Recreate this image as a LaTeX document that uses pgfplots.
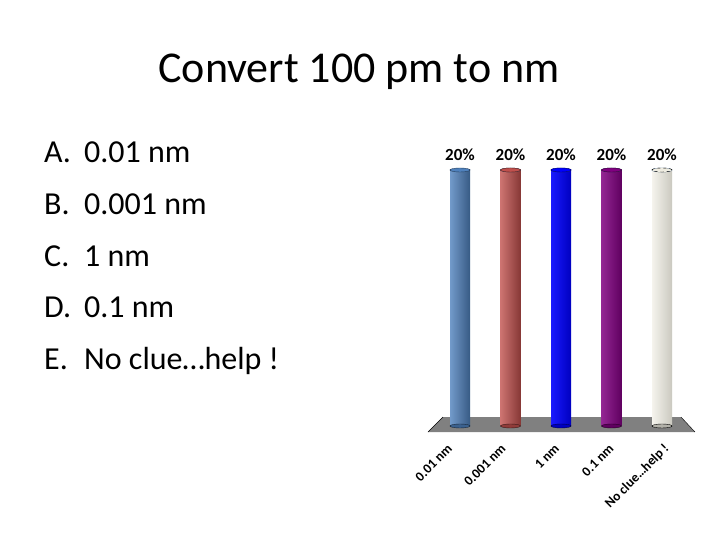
\documentclass[border=0pt]{standalone}
\usepackage{pgfplots}
\pgfplotsset{compat=1.18}
\usepackage{fontspec}
\setmainfont{Carlito}
\definecolor{cA}{HTML}{4F81BD}
\definecolor{cB}{HTML}{C0504D}
\definecolor{cC}{HTML}{0000FF}
\definecolor{cD}{HTML}{800080}
\definecolor{cE}{HTML}{EEECE1}
\definecolor{floorgray}{HTML}{808080}
\begin{document}
\begin{tikzpicture}
\path[use as bounding box, fill=white] (0,0) rectangle (720pt,540pt);
% title
\node[anchor=base, inner sep=0pt, font=\fontsize{44}{53}\selectfont] at (359pt,457pt) {Convert 100 pm to nm};
% answer list
\begin{scope}[every node/.style={anchor=base west, inner sep=0pt, font=\fontsize{32}{38}\selectfont}]
\node at (44pt,377pt) {A.}; \node at (84pt,377pt) {0.01 nm};
\node at (44pt,325pt) {B.}; \node at (84pt,325pt) {0.001 nm};
\node at (44pt,273pt) {C.}; \node at (84pt,273pt) {1 nm};
\node at (44pt,222pt) {D.}; \node at (84pt,222pt) {0.1 nm};
\node at (44pt,170pt) {E.}; \node at (84pt,170pt) {No clue…help !};
\end{scope}
\begin{axis}[
  at={(424.65pt,106.32pt)}, anchor=south west,
  scale only axis, width=272.7pt, height=263.68pt,
  xmin=-0.7, xmax=4.7, ymin=-0.6, ymax=20,
  clip=false,
  axis line style={draw=none},
  major tick length=0pt,
  ytick=\empty,
  /pgf/number format/assume math mode=true,
  xtick={-0.2,0.86,1.92,3.0,4.1},
  xticklabels={0.01 nm,0.001 nm,1 nm,0.1 nm,No clue…help !},
  xticklabel style={yshift=-13pt, rotate=45, anchor=east, inner sep=0pt,
    font=\bfseries\fontsize{13.5}{16}\selectfont},
]
% floor
\addplot[fill=floorgray, draw=none] coordinates {(-0.634,-0.47) (-0.337,0.70) (4.376,0.70) (4.653,-0.47)} -- cycle;
\addplot[black, thin] coordinates {(-0.634,-0.47) (-0.337,0.70)};
\addplot[black, thin] coordinates {(4.376,0.70) (4.653,-0.47)};
% bottom ellipses
\addplot[only marks, mark=*, mark size=10pt, mark options={yscale=0.2, fill=cA!75!black, draw=cA!30!black}] coordinates {(0,0)};
\addplot[only marks, mark=*, mark size=10pt, mark options={yscale=0.2, fill=cB!75!black, draw=cB!30!black}] coordinates {(1,0)};
\addplot[only marks, mark=*, mark size=10pt, mark options={yscale=0.2, fill=cC!75!black, draw=cC!30!black}] coordinates {(2,0)};
\addplot[only marks, mark=*, mark size=10pt, mark options={yscale=0.2, fill=cD!75!black, draw=cD!30!black}] coordinates {(3,0)};
\addplot[only marks, mark=*, mark size=10pt, mark options={yscale=0.2, fill=cE!75!black, draw=black}] coordinates {(4,0)};
% bars
\addplot[ybar, bar width=20pt, bar shift=0pt, draw=none, left color=cA!80!white, middle color=cA, right color=cA!70!black] coordinates {(0,20)};
\addplot[ybar, bar width=20pt, bar shift=0pt, draw=none, left color=cB!80!white, middle color=cB, right color=cB!70!black] coordinates {(1,20)};
\addplot[ybar, bar width=20pt, bar shift=0pt, draw=none, left color=cC!90!white, middle color=cC, right color=cC!75!black] coordinates {(2,20)};
\addplot[ybar, bar width=20pt, bar shift=0pt, draw=none, left color=cD!85!white, middle color=cD, right color=cD!75!black] coordinates {(3,20)};
\addplot[ybar, bar width=20pt, bar shift=0pt, draw=none, left color=cE!60!white, middle color=cE, right color=cE!85!black] coordinates {(4,20)};
% top caps and labels
\addplot[only marks, mark=*, mark size=10pt, mark options={yscale=0.2, fill=cA, draw=cA!50!black},
  nodes near coords={\pgfmathprintnumber{\pgfplotspointmeta}\%},
  nodes near coords style={anchor=base, yshift=9pt, black, font=\bfseries\fontsize{17}{20}\selectfont}]
  coordinates {(0,20) (1,20) (2,20) (3,20) (4,20)};
\addplot[only marks, mark=*, mark size=10pt, mark options={yscale=0.2, fill=cB, draw=cB!50!black}] coordinates {(1,20)};
\addplot[only marks, mark=*, mark size=10pt, mark options={yscale=0.2, fill=cC, draw=cC!50!black}] coordinates {(2,20)};
\addplot[only marks, mark=*, mark size=10pt, mark options={yscale=0.2, fill=cD, draw=cD!50!black}] coordinates {(3,20)};
\addplot[only marks, mark=*, mark size=10pt, mark options={yscale=0.2, fill=cE, draw=black, dashed}] coordinates {(4,20)};
\end{axis}
\end{tikzpicture}
\end{document}
